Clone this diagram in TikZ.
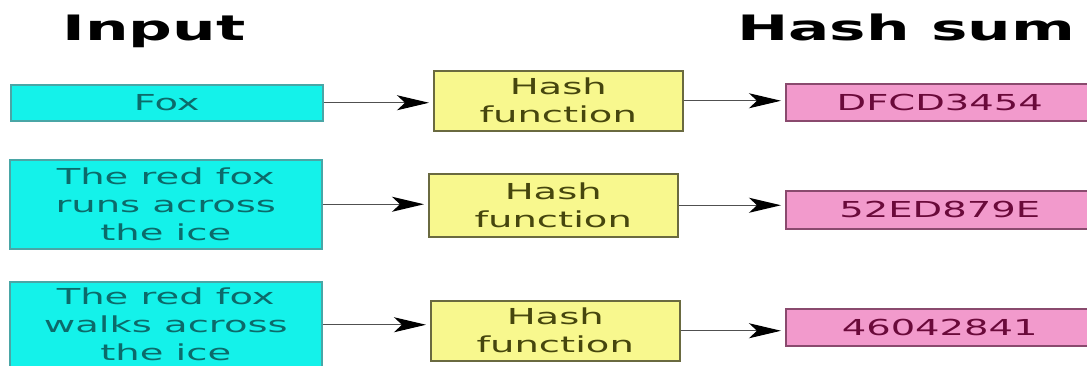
\documentclass[tikz,border=0pt]{standalone}
\usepackage{fontspec}
\setmainfont{DejaVu Sans}[FakeStretch=1.75]
\usetikzlibrary{arrows.meta}

\definecolor{inputfill}{HTML}{14F2EA}
\definecolor{inputdraw}{HTML}{4AA6A6}
\definecolor{inputtext}{HTML}{0C6A6A}
\definecolor{hashfill}{HTML}{F8F88E}
\definecolor{hashdraw}{HTML}{6A6A40}
\definecolor{hashtext}{HTML}{46460E}
\definecolor{sumfill}{HTML}{F29ACC}
\definecolor{sumdraw}{HTML}{8A4A6E}
\definecolor{sumtext}{HTML}{6A0A3A}
\definecolor{arrowcol}{HTML}{505050}

\tikzset{
  boxbase/.style={draw, line width=1.5pt, inner sep=0pt, align=center,
    anchor=north west, font=\fontsize{22}{28}\selectfont},
  inbox/.style={boxbase, fill=inputfill, draw=inputdraw, text=inputtext,
    minimum width=312pt},
  hashbox/.style={boxbase, fill=hashfill, draw=hashdraw, text=hashtext,
    minimum width=249pt},
  sumbox/.style={boxbase, fill=sumfill, draw=sumdraw, text=sumtext,
    minimum width=308pt},
  heading/.style={anchor=base, font=\bfseries\fontsize{35}{40}\selectfont},
  conn/.style={draw=arrowcol, line width=1.2pt, shorten >=4pt,
    -{Stealth[length=32pt, width=15pt, inset=8pt, color=black]}}
}

\begin{document}
\begin{tikzpicture}[x=1pt, y=-1pt]
  \useasboundingbox (0,0) rectangle (1087,365);
  \clip (0,0) rectangle (1087,365);

  % column headings
  \node[heading] (tin)  at (154,40) {Input};
  \node[heading] (tsum) at (906,40) {Hash sum};

  % row 1
  \node[inbox, minimum height=36pt]   (in1) at (10,84)  {Fox};
  \node[hashbox, minimum height=60pt] (h1)  at (433,70) {Hash\\function};
  \node[sumbox, minimum height=37pt]  (s1)  at (785,83) {DFCD3454};

  % row 2
  \node[inbox, minimum height=89pt]   (in2) at (9,159)   {The red fox\\runs across\\the ice};
  \node[hashbox, minimum height=63pt] (h2)  at (428,173) {Hash\\function};
  \node[sumbox, minimum height=38pt]  (s2)  at (785,190) {52ED879E};

  % row 3 (its input box runs past the lower edge)
  \node[inbox, minimum height=86pt]   (in3) at (9,281)   {The red fox\\walks across\\the ice};
  \node[hashbox, minimum height=60pt] (h3)  at (430,300) {Hash\\function};
  \node[sumbox, minimum height=37pt]  (s3)  at (785,308) {46042841};

  % connectors
  \draw[conn] (in1.east) -- (in1.east -| h1.west);
  \draw[conn] (h1.east)  -- (h1.east -| s1.west);
  \draw[conn] (in2.east) -- (in2.east -| h2.west);
  \draw[conn] (h2.east)  -- (h2.east -| s2.west);
  \draw[conn] (in3.east) -- (in3.east -| h3.west);
  \draw[conn] (h3.east)  -- (h3.east -| s3.west);
\end{tikzpicture}
\end{document}
